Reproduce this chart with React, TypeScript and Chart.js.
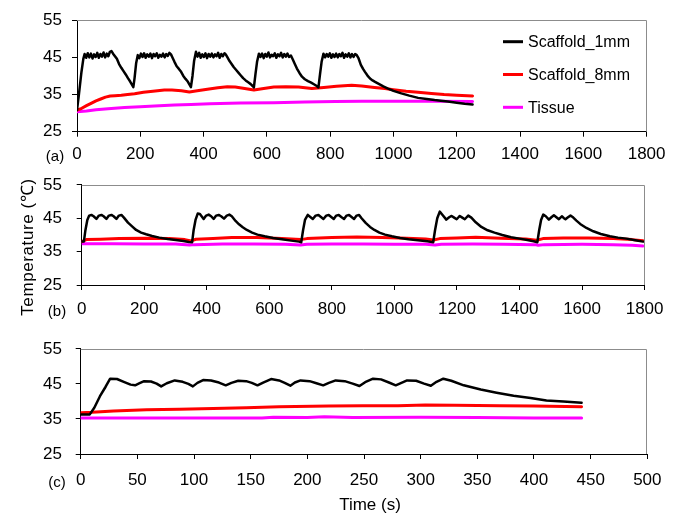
import React, { useEffect, useRef } from "react";
import { Chart, registerables } from "chart.js";
Chart.register(...registerables);

type Pt = [number, number];

const FONT = '"Liberation Sans", Arial, Helvetica, sans-serif';

const seriesNames = ["Scaffold_1mm", "Scaffold_8mm", "Tissue"];
const seriesColors = ["#000000", "#ff0000", "#ff00ff"];
const yMin = 25;
const yMax = 55;
const yStep = 10;
const panelLabels = ["(a)", "(b)", "(c)"];
const xMaxes = [1800, 1800, 500];
const xSteps = [200, 200, 50];
const yTitle = "Temperature (\u2103)";
const xTitle = "Time (s)";

// ---- Panel (a) ----
const aScaffold1mm: Pt[] = [
  [0, 30.8], [6, 35], [14, 41], [20, 44.6], [24, 45.9], [29, 44.9], [34, 46.1], [39, 45.0], [44, 46.0], [49, 44.7],
  [54, 45.8], [59, 45.1], [64, 46.2], [69, 44.9], [74, 45.9], [79, 45.2], [84, 46.3], [89, 45.0], [94, 46.0], [99, 45.3],
  [104, 46.5], [109, 46.7], [114, 46.0], [120, 45.3], [126, 44.6], [133, 43.2], [140, 42.2], [147, 41.3], [154, 40.4],
  [161, 39.4], [168, 38.5], [174, 37.6], [178, 37.0], [182, 39.5], [187, 43.5], [192, 45.6], [197, 44.8], [202, 46.0],
  [207, 45.1], [212, 46.1], [217, 44.9], [222, 45.8], [227, 45.2], [232, 46.0], [237, 44.8], [242, 45.9], [247, 45.3],
  [252, 46.1], [257, 44.9], [262, 45.7], [267, 45.2], [272, 46.0], [277, 45.0], [282, 45.9], [287, 45.4], [292, 46.2],
  [297, 45.8], [302, 44.9], [308, 43.8], [315, 42.6], [322, 41.9], [329, 41.1], [336, 40.0], [343, 39.2], [350, 38.5],
  [356, 37.6], [360, 37.0], [365, 40], [370, 44], [376, 46.5], [381, 45.2], [386, 46.2], [391, 44.9], [396, 45.8],
  [401, 45.1], [406, 46.1], [411, 44.8], [416, 45.9], [421, 45.2], [426, 46.0], [431, 45.0], [436, 45.8], [441, 45.3],
  [446, 46.2], [451, 44.9], [456, 45.9], [461, 45.3], [466, 46.1], [470, 45.8], [476, 44.9], [482, 44.0], [488, 43.3],
  [495, 42.4], [503, 41.6], [510, 40.9], [517, 40.2], [525, 39.4], [533, 38.8], [541, 38.3], [549, 37.8], [555, 37.3],
  [559, 36.9], [564, 40.5], [569, 43.8], [575, 46.0], [580, 45.1], [585, 46.0], [590, 44.8], [595, 45.9], [600, 45.2],
  [605, 46.3], [610, 45.0], [615, 45.7], [620, 45.3], [625, 46.1], [630, 44.9], [635, 45.8], [640, 45.3], [645, 46.2],
  [650, 45.0], [655, 45.9], [660, 45.2], [665, 46.0], [670, 45.1], [676, 45.5], [682, 44.4], [688, 43.3], [695, 42.0],
  [703, 40.8], [711, 39.8], [720, 39.1], [730, 38.6], [740, 38.2], [750, 37.7], [758, 37.3], [763, 36.9], [768, 40.5],
  [773, 43.8], [779, 46.0], [784, 45.0], [789, 45.9], [794, 45.2], [799, 46.1], [804, 44.9], [809, 45.8], [814, 45.1],
  [819, 46.0], [824, 45.0], [829, 45.9], [834, 45.3], [839, 46.2], [844, 44.9], [849, 45.8], [854, 45.2], [859, 46.1],
  [864, 45.0], [869, 45.9], [874, 45.1], [879, 45.9], [884, 45.6], [890, 44.7], [897, 43.0], [904, 41.9], [910, 41.1],
  [918, 40.1], [926, 39.3], [934, 38.8], [942, 38.4], [955, 37.8], [968, 37.2], [983, 36.6], [1000, 36.0], [1025, 35.3],
  [1050, 34.7], [1078, 34.1], [1105, 33.8], [1130, 33.5], [1150, 33.3], [1172, 33.1], [1200, 32.8], [1225, 32.5], [1250, 32.3],
];
const aScaffold8mm: Pt[] = [
  [0, 30.8], [15, 31.3], [30, 32.0], [46, 32.7], [60, 33.3], [75, 33.8], [90, 34.3], [105, 34.6], [120, 34.7], [140, 34.8],
  [160, 35.0], [182, 35.2], [210, 35.6], [240, 35.9], [276, 36.2], [300, 36.2], [330, 36.0], [355, 35.7], [380, 36.0],
  [412, 36.4], [445, 36.8], [475, 37.1], [500, 37.0], [530, 36.6], [559, 36.2], [590, 36.6], [622, 37.0], [660, 37.1],
  [700, 37.0], [742, 36.6], [780, 36.9], [820, 37.2], [868, 37.5], [900, 37.3], [940, 36.9], [973, 36.6], [1000, 36.3],
  [1040, 35.9], [1078, 35.6], [1120, 35.3], [1160, 35.0], [1200, 34.8], [1250, 34.6],
];
const aTissue: Pt[] = [
  [0, 30.4], [30, 30.6], [60, 30.9], [98, 31.2], [150, 31.5], [200, 31.7], [260, 32.0], [308, 32.2], [360, 32.3],
  [420, 32.5], [517, 32.7], [622, 32.8], [720, 33.0], [816, 33.1], [900, 33.2], [1000, 33.2], [1130, 33.2], [1250, 33.1],
];

// ---- Panel (b) ----
const bScaffold1mm: Pt[] = [
  [0, 38.0], [7, 38.0], [12, 41.5], [18, 44.5], [24, 45.8], [31, 46.0], [38, 45.6], [47, 44.8], [55, 45.8], [63, 46.0],
  [70, 45.6], [79, 44.8], [87, 45.8], [95, 46.0], [102, 45.6], [111, 44.8], [119, 45.8], [127, 46.0], [135, 45.2],
  [148, 43.7], [162, 42.5], [174, 41.5], [190, 40.7], [206, 40.2], [225, 39.7], [248, 39.2], [275, 38.8], [301, 38.5],
  [325, 38.2], [343, 37.9], [353, 37.8],
  [358, 41.5], [364, 44.5], [371, 46.4], [378, 46.3], [390, 44.8], [398, 45.8], [406, 46.1], [414, 45.6], [422, 44.8],
  [430, 45.8], [438, 46.0], [446, 45.6], [455, 44.9], [464, 45.8], [472, 46.1], [480, 45.6], [492, 44.2], [503, 43.2],
  [515, 42.3], [528, 41.5], [545, 40.7], [562, 40.1], [585, 39.6], [612, 39.1], [640, 38.7], [670, 38.3], [695, 38.0], [702, 37.8],
  [708, 41.5], [714, 44.5], [723, 46.0], [731, 45.4], [739, 44.8], [748, 45.8], [757, 46.0], [765, 45.4], [773, 44.8],
  [782, 45.8], [790, 46.0], [798, 45.4], [806, 44.8], [814, 45.8], [822, 46.0], [830, 45.4], [839, 44.8], [847, 45.8],
  [855, 46.0], [863, 45.4], [871, 44.8], [879, 45.8], [887, 46.0], [895, 45.0], [908, 43.6], [922, 42.4], [936, 41.5],
  [952, 40.7], [970, 40.1], [992, 39.6], [1018, 39.1], [1045, 38.7], [1075, 38.4], [1105, 38.1], [1124, 37.8],
  [1130, 41.5], [1137, 45.0], [1145, 47.0], [1152, 46.2], [1166, 44.6], [1175, 45.3], [1183, 45.7], [1191, 45.2],
  [1199, 44.7], [1205, 45.3], [1209, 45.7], [1217, 45.2], [1225, 44.7], [1231, 45.3], [1236, 45.8], [1246, 45.2],
  [1260, 43.8], [1278, 42.4], [1298, 41.4], [1320, 40.7], [1345, 40.0], [1373, 39.3], [1400, 38.9], [1425, 38.5],
  [1445, 38.1], [1457, 37.8],
  [1463, 41.5], [1469, 44.5], [1476, 46.1], [1484, 45.6], [1494, 44.6], [1502, 45.3], [1510, 45.9], [1518, 45.3],
  [1526, 44.7], [1531, 45.2], [1536, 45.6], [1541, 45.1], [1547, 44.7], [1555, 45.3], [1563, 45.8], [1572, 45.2],
  [1582, 44.3], [1594, 43.3], [1614, 42.1], [1636, 41.1], [1660, 40.3], [1689, 39.6], [1715, 39.2], [1742, 38.9],
  [1770, 38.4], [1795, 38.0],
];
const bScaffold8mm: Pt[] = [
  [0, 38.0], [15, 38.6], [60, 38.7], [120, 38.9], [200, 39.0], [280, 38.9], [330, 38.6], [350, 38.2], [365, 38.7],
  [420, 38.9], [480, 39.2], [560, 39.2], [640, 38.9], [700, 38.6], [720, 38.9], [800, 39.2], [880, 39.4], [960, 39.2],
  [1040, 39.0], [1100, 38.8], [1125, 38.5], [1145, 38.9], [1200, 39.1], [1260, 39.3], [1340, 39.0], [1420, 38.8],
  [1455, 38.4], [1475, 38.9], [1540, 39.1], [1620, 39.1], [1700, 38.9], [1760, 38.6], [1795, 38.3],
];
const bTissue: Pt[] = [
  [0, 37.4], [100, 37.4], [200, 37.3], [300, 37.3], [345, 37.0], [360, 37.1], [450, 37.3], [550, 37.3], [650, 37.2],
  [700, 37.0], [720, 37.2], [800, 37.3], [900, 37.3], [1000, 37.2], [1100, 37.2], [1130, 37.0], [1150, 37.2],
  [1250, 37.3], [1350, 37.2], [1450, 37.1], [1460, 36.9], [1480, 37.1], [1600, 37.2], [1700, 37.1], [1760, 36.9], [1795, 36.7],
];

// ---- Panel (c) ----
const cScaffold1mm: Pt[] = [
  [0, 36.3], [8, 36.3], [12, 38.2], [17, 41.5], [22, 44.2], [26, 46.5], [32, 46.4], [38, 45.6], [44, 44.8], [48, 44.6],
  [52, 45.2], [56, 45.8], [62, 45.7], [67, 45.1], [71, 44.3], [76, 45.2], [83, 46.0], [90, 45.6], [95, 45.0], [99, 44.3],
  [103, 45.3], [108, 46.1], [115, 46.0], [122, 45.4], [128, 44.6], [133, 45.3], [139, 45.9], [146, 45.8], [151, 45.3],
  [156, 44.6], [161, 45.4], [168, 46.4], [175, 46.0], [180, 45.3], [185, 44.5], [189, 45.4], [194, 46.0], [202, 45.8],
  [208, 45.2], [214, 44.6], [219, 45.3], [225, 46.0], [233, 45.8], [240, 45.1], [246, 44.4], [251, 45.5], [258, 46.5],
  [265, 46.3], [272, 45.4], [278, 44.6], [283, 45.3], [288, 46.0], [296, 45.9], [303, 45.1], [309, 44.5], [314, 45.6],
  [320, 46.5], [327, 45.9], [338, 44.6], [353, 43.4], [367, 42.5], [382, 41.6], [397, 41.0], [411, 40.3], [426, 40.0], [442, 39.6],
];
const cScaffold8mm: Pt[] = [
  [0, 36.8], [10, 36.9], [29, 37.3], [58, 37.6], [87, 37.8], [117, 38.0], [146, 38.2], [175, 38.5], [219, 38.7],
  [249, 38.8], [280, 38.8], [304, 39.0], [330, 38.9], [370, 38.8], [400, 38.7], [442, 38.5],
];
const cTissue: Pt[] = [
  [0, 35.3], [100, 35.3], [160, 35.3], [170, 35.5], [200, 35.4], [215, 35.6], [240, 35.4], [300, 35.5], [350, 35.4],
  [400, 35.3], [442, 35.3],
];

const seriesWidths = [2.5, 3, 3];

const framePlugin = {
  id: "frameBox",
  afterDatasetsDraw(chart: any) {
    const { ctx, chartArea } = chart;
    const { left, top, right, bottom } = chartArea;
    ctx.save();
    ctx.strokeStyle = "#8c8c8c";
    ctx.lineWidth = 1;
    ctx.beginPath();
    ctx.moveTo(left, Math.round(top) + 0.5);
    ctx.lineTo(Math.round(right) - 0.5, Math.round(top) + 0.5);
    ctx.lineTo(Math.round(right) - 0.5, bottom);
    ctx.stroke();
    ctx.restore();
  },
};

const legendPlugin = {
  id: "customLegend",
  afterDraw(chart: any, _args: any, opts: any) {
    if (!opts || !opts.show) return;
    const { ctx } = chart;
    ctx.save();
    ctx.font = `16px ${FONT}`;
    ctx.textBaseline = "middle";
    ctx.textAlign = "left";
    chart.data.datasets.forEach((ds: any, i: number) => {
      const y = opts.y0 + i * opts.dy;
      ctx.strokeStyle = ds.borderColor;
      ctx.lineWidth = 3;
      ctx.beginPath();
      ctx.moveTo(opts.x0, y);
      ctx.lineTo(opts.x0 + 20, y);
      ctx.stroke();
      ctx.fillStyle = "#000";
      ctx.fillText(ds.label, opts.x0 + 25, y + 1);
    });
    ctx.restore();
  },
};

type PanelCfg = {
  top: number;
  height: number;
  padTop: number;
  yWidth: number;
  xHeight: number;
  xTickPad: number;
  idx: number;
  series: Pt[][];
  legend: boolean;
};

const W = 673;
const RIGHT = 650;
const LABEL_RIGHT = 62;

function Panel({ cfg }: { cfg: PanelCfg }) {
  const ref = useRef<HTMLCanvasElement | null>(null);
  useEffect(() => {
    if (!ref.current) return;
    const tickFont = { family: FONT, size: 17 };
    const plain = (v: any) => String(v);
    const chart = new Chart(ref.current, {
      type: "line",
      data: {
        datasets: cfg.series.map((s, i) => ({
          label: seriesNames[i],
          data: s.map(([x, y]) => ({ x, y })),
          borderColor: seriesColors[i],
          backgroundColor: seriesColors[i],
          borderWidth: seriesWidths[i],
          pointRadius: 0,
          tension: 0,
          fill: false,
          borderJoinStyle: "round",
          borderCapStyle: "round",
        })),
      },
      options: {
        responsive: false,
        animation: false,
        events: [],
        layout: { padding: { top: cfg.padTop, right: W - RIGHT, left: 0, bottom: 0 } },
        plugins: {
          legend: { display: false },
          tooltip: { enabled: false },
          customLegend: { show: cfg.legend, x0: 503, y0: 41.7, dy: 32.8 },
        } as any,
        scales: {
          x: {
            type: "linear",
            min: 0,
            max: xMaxes[cfg.idx],
            ticks: {
              stepSize: xSteps[cfg.idx],
              font: tickFont,
              color: "#000",
              padding: cfg.xTickPad,
              maxRotation: 0,
              autoSkip: false,
              callback: plain,
            },
            grid: { drawOnChartArea: false, drawTicks: true, tickLength: 5, color: "#000" },
            border: { color: "#000", width: 1 },
            afterFit: (s: any) => {
              s.height = cfg.xHeight;
            },
          },
          y: {
            min: yMin,
            max: yMax,
            ticks: {
              stepSize: yStep,
              font: tickFont,
              color: "#000",
              padding: cfg.yWidth - 5 - LABEL_RIGHT,
              callback: plain,
            },
            grid: { drawOnChartArea: false, drawTicks: true, tickLength: 5, color: "#000" },
            border: { color: "#000", width: 1 },
            afterFit: (s: any) => {
              s.width = cfg.yWidth;
            },
          },
        },
      } as any,
      plugins: [framePlugin, legendPlugin],
    });
    return () => chart.destroy();
  }, [cfg]);
  return (
    <canvas
      ref={ref}
      width={W}
      height={cfg.height}
      style={{ position: "absolute", left: 0, top: cfg.top, width: W, height: cfg.height, display: "block" }}
    />
  );
}

const panels: PanelCfg[] = [
  { top: 0, height: 168, padTop: 20, yWidth: 77, xHeight: 168 - 131.7, xTickPad: 7.5, idx: 0, series: [aScaffold1mm, aScaffold8mm, aTissue], legend: true },
  { top: 160, height: 170, padTop: 10, yWidth: 81.7, xHeight: 330 - 285, xTickPad: 9.5, idx: 1, series: [bScaffold1mm, bScaffold8mm, bTissue], legend: false },
  { top: 325, height: 188, padTop: 12.7, yWidth: 80.7, xHeight: 513 - 454, xTickPad: 11.5, idx: 2, series: [cScaffold1mm, cScaffold8mm, cTissue], legend: false },
];

const labelPos = [
  { x: 55, y: 155 },
  { x: 57, y: 310 },
  { x: 57, y: 481 },
];

export default function App() {
  const textBase: React.CSSProperties = {
    position: "absolute",
    fontFamily: FONT,
    color: "#000",
    whiteSpace: "nowrap",
    lineHeight: "1",
  };
  return (
    <div style={{ position: "absolute", left: 0, top: 0, width: W, height: 513, background: "#fff", overflow: "hidden" }}>
      {panels.map((p, i) => (
        <Panel key={i} cfg={p} />
      ))}
      {panelLabels.map((t, i) => (
        <div
          key={t}
          style={{ ...textBase, fontSize: 15, left: labelPos[i].x, top: labelPos[i].y, transform: "translate(-50%, -50%)" }}
        >
          {t}
        </div>
      ))}
      <div
        style={{
          ...textBase,
          fontSize: 17,
          letterSpacing: "0.6px",
          left: 27,
          top: 247,
          transform: "translate(-50%, -50%) rotate(-90deg)",
        }}
      >
        {yTitle}
      </div>
      <div style={{ ...textBase, fontSize: 17, left: 370, top: 504, transform: "translate(-50%, -50%)" }}>{xTitle}</div>
    </div>
  );
}
